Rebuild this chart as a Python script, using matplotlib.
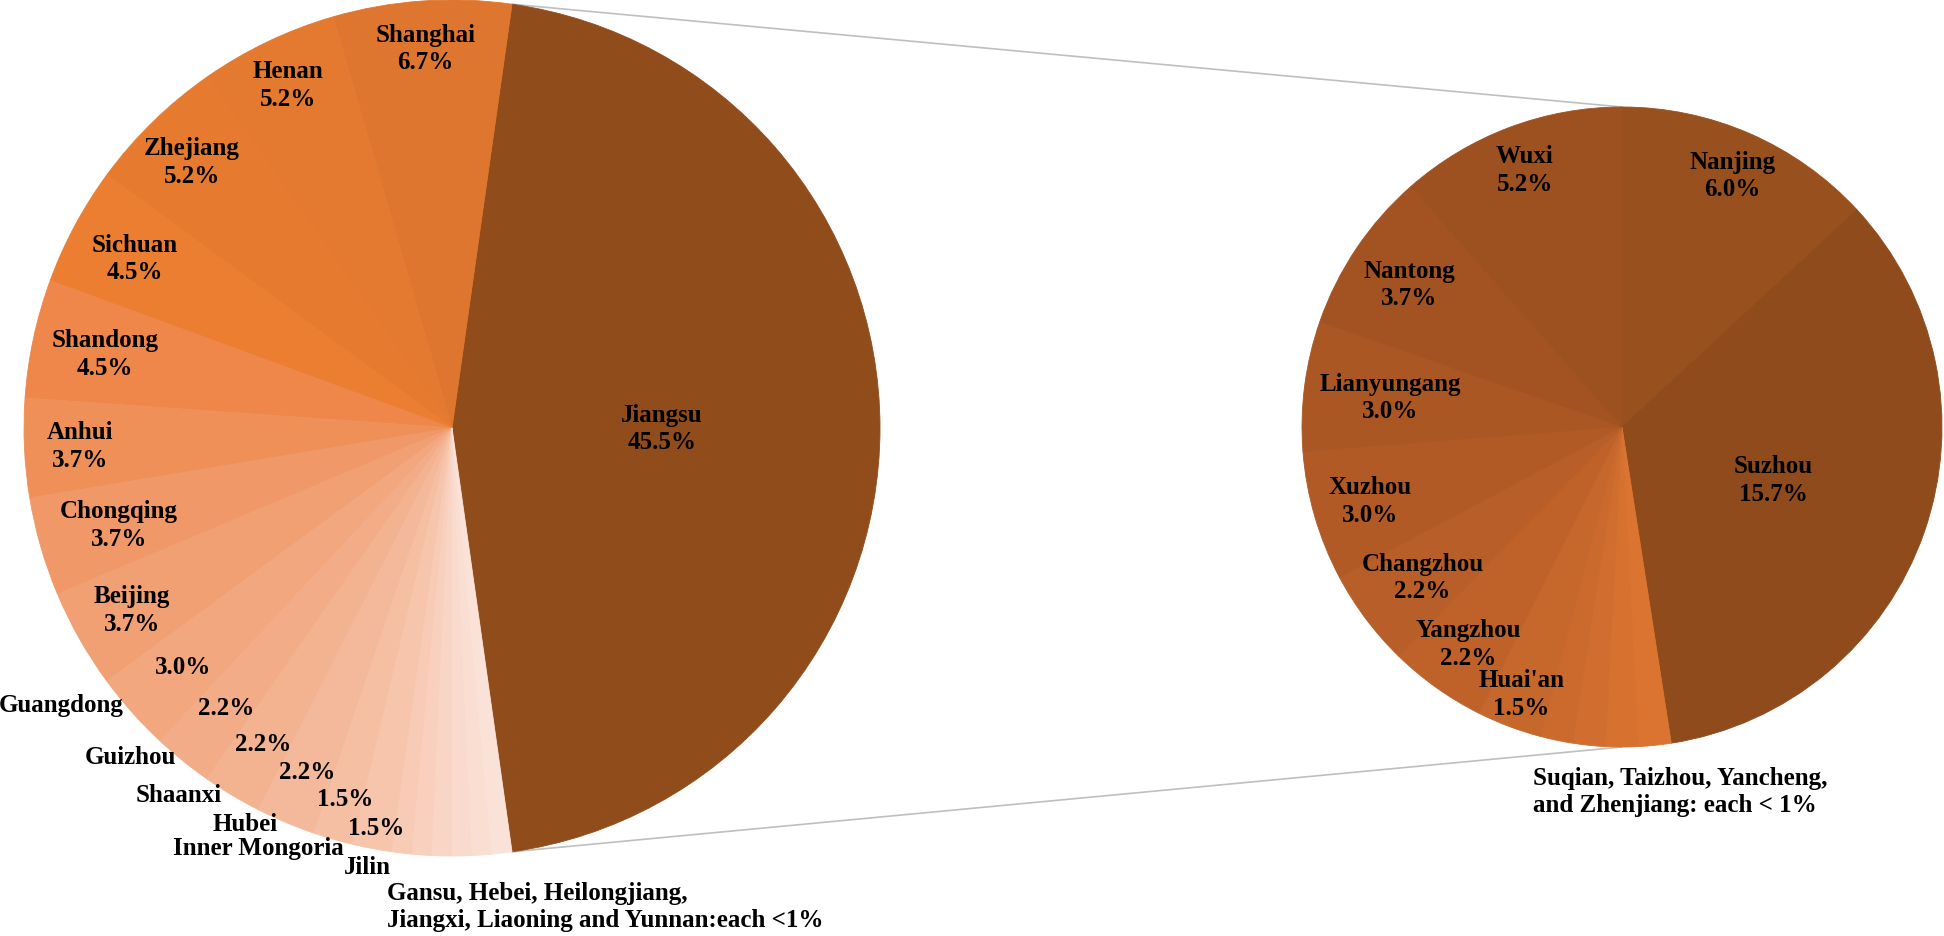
import numpy as np
import matplotlib.pyplot as plt

plt.rcParams['font.family'] = ['Liberation Serif', 'DejaVu Serif']

# counts out of 134 respondents
total = 134
provinces = ['Jiangsu', 'Shanghai', 'Henan', 'Zhejiang', 'Sichuan', 'Shandong', 'Anhui',
             'Chongqing', 'Beijing', 'Guangdong', 'Guizhou', 'Shaanxi', 'Hubei',
             'Inner Mongoria', 'Jilin', 'Gansu', 'Hebei', 'Heilongjiang', 'Jiangxi',
             'Liaoning', 'Yunnan']
prov_counts = [61, 9, 7, 7, 6, 6, 5, 5, 5, 4, 3, 3, 3, 2, 2, 1, 1, 1, 1, 1, 1]

# breakdown of Jiangsu (clockwise from the top)
cities = ['Nanjing', 'Suzhou', 'Suqian', 'Taizhou', 'Yancheng', 'Zhenjiang', "Huai'an",
          'Yangzhou', 'Changzhou', 'Xuzhou', 'Lianyungang', 'Nantong', 'Wuxi']
city_counts = [8, 21, 1, 1, 1, 1, 2, 3, 3, 4, 4, 5, 7]

small_prov_text = 'Gansu, Hebei, Heilongjiang,\nJiangxi, Liaoning and Yunnan:each <1%'
small_city_text = 'Suqian, Taizhou, Yancheng,\nand Zhenjiang: each < 1%'

# styles
left_colors = ['#914C1C', '#DF762F', '#E37A30', '#E67B30', '#EB7E31', '#EE8749', '#EF9058',
               '#F09867', '#F1A074', '#F2A77F', '#F2AD88', '#F3B391', '#F4B99A', '#F5BFA3',
               '#F6C5AC', '#F7CBB5', '#F8D0BD', '#F9D5C5', '#F9DACC', '#FADED2', '#FBE2D8']
right_colors = ['#97501E', '#8F4B1C', '#DB7430', '#D6712F', '#D16D2E', '#CC6A2D', '#C6672C',
                '#BF622A', '#B85E28', '#B15A26', '#AA5724', '#A35322', '#9D5120']

W, H = 1944, 937
c1, r1 = (452, H - 429), 428
c2, r2 = (1622, H - 428), 320

# label radius (fraction of radius); None = no label in the slice
left_lab_r = [0.49, 0.89, 0.89, 0.87, 0.84, 0.83, 0.87, 0.81, 0.86,
              0.84, 0.84, 0.86, 0.87, 0.90, 0.95] + [None] * 6
right_lab_r = [0.86, 0.50, None, None, None, None, 0.89, 0.83, 0.78, 0.82, 0.73, 0.80, 0.86]
# names written outside the left pie (pixel offsets from the rim)
outside = {9: (-9, 8), 10: (-7, 4), 11: (-10, 1), 12: (-8, -1), 13: (11, -8), 14: (19, -18)}

fig = plt.figure(figsize=(W / 100, H / 100), dpi=100)
ax = fig.add_axes([0, 0, 1, 1])

half = prov_counts[0] / total * 180
w1, _ = ax.pie(prov_counts, colors=left_colors, startangle=-half, counterclock=True,
               center=c1, radius=r1, wedgeprops=dict(linewidth=0.6))
w2, _ = ax.pie(city_counts, colors=right_colors, startangle=90, counterclock=False,
               center=c2, radius=r2, wedgeprops=dict(linewidth=0.6))
for w in list(w1) + list(w2):
    w.set_edgecolor(w.get_facecolor())

fs = 18
txt = dict(fontsize=fs, fontweight='bold', color='black', linespacing=1.25)

for i, w in enumerate(w1):
    rr = left_lab_r[i]
    if rr is None:
        continue
    mid = np.deg2rad((w.theta1 + w.theta2) / 2)
    pct = f'{prov_counts[i] / total * 100:.1f}%'
    x = c1[0] + rr * r1 * np.cos(mid)
    y = c1[1] + rr * r1 * np.sin(mid)
    if i in outside:
        ax.text(x, y, pct, ha='center', va='center', **txt)
        dx, dy = outside[i]
        ax.text(c1[0] + r1 * np.cos(mid) + dx, c1[1] + r1 * np.sin(mid) + dy,
                provinces[i], ha='right', va='center', **txt)
    else:
        ax.text(x, y, f'{provinces[i]}\n{pct}', ha='center', va='center', **txt)

for i, w in enumerate(w2):
    rr = right_lab_r[i]
    if rr is None:
        continue
    mid = np.deg2rad((w.theta1 + w.theta2) / 2)
    pct = f'{city_counts[i] / total * 100:.1f}%'
    ax.text(c2[0] + rr * r2 * np.cos(mid), c2[1] + rr * r2 * np.sin(mid),
            f'{cities[i]}\n{pct}', ha='center', va='center', **txt)

ax.text(c1[0] - 65, c1[1] - r1 - 50, small_prov_text, ha='left', va='center', **txt)
ax.text(c2[0] - 89, c2[1] - r2 - 44, small_city_text, ha='left', va='center', **txt)

# connector lines from the Jiangsu slice to the second pie
for ang, yy in [(w1[0].theta2, c2[1] + r2), (w1[0].theta1, c2[1] - r2)]:
    a = np.deg2rad(ang)
    ax.plot([c1[0] + r1 * np.cos(a), c2[0]], [c1[1] + r1 * np.sin(a), yy],
            color='#BFBFBF', linewidth=1.2, zorder=0)

ax.set_xlim(0, W)
ax.set_ylim(0, H)
ax.set_aspect('equal')
ax.axis('off')

fig.savefig('out.png', dpi=100, facecolor='white')
